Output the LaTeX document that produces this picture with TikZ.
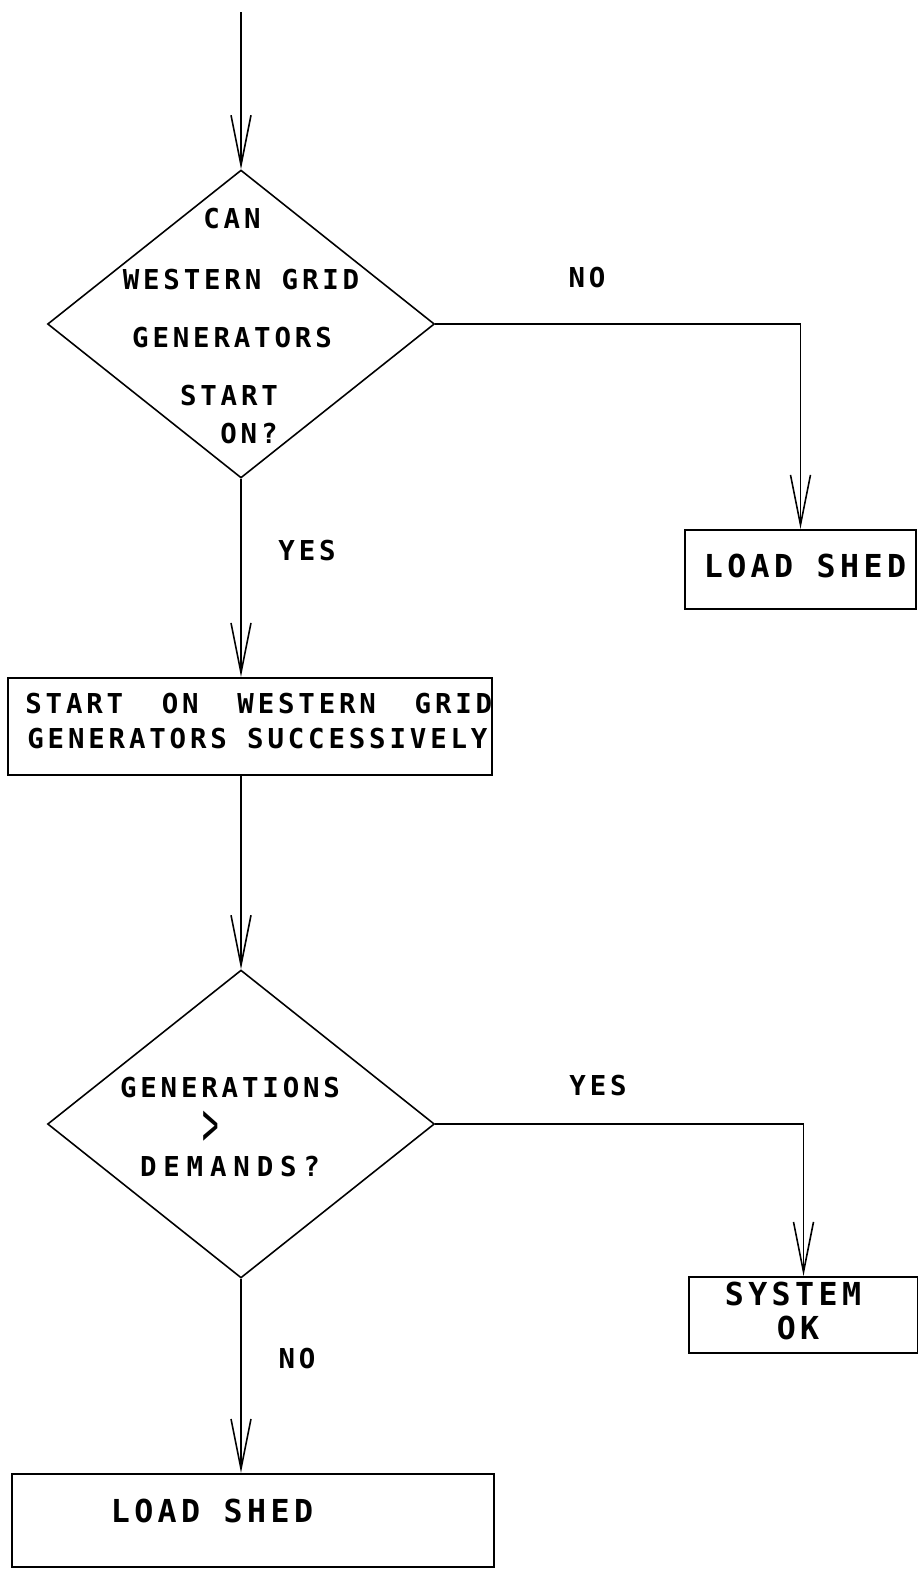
\documentclass[tikz,border=0pt]{standalone}
\usepackage{graphicx}
\usepackage{fontspec}
\newfontfamily\plotfont{DejaVu Sans Mono}[LetterSpace=14, UprightFont=*, BoldFont=* Bold]
\newfontfamily\plotwide{DejaVu Sans Mono}[LetterSpace=25]
\usetikzlibrary{arrows.meta,shapes.geometric}

\tikzset{
  flow/.style={line width=0.9pt, -{Straight Barb[length=1cm,width=0.4cm]}},
  decision/.style={draw, diamond, line width=0.9pt, inner sep=0pt,
    minimum width=7.74cm, minimum height=6.16cm},
  stepbox/.style={draw, rectangle, line width=1.2pt, inner sep=0pt},
  txt/.style={inner sep=0pt, font=\plotfont\bfseries\fontsize{15.6pt}{18pt}\selectfont,
    text height=11.4pt, text depth=0pt},
  bigtxt/.style={inner sep=0pt, font=\plotfont\bfseries\fontsize{18pt}{21pt}\selectfont,
    text height=13.1pt, text depth=0pt},
}

\begin{document}
\begin{tikzpicture}[x=0.02cm, y=-0.02cm]
	\useasboundingbox (0,0) rectangle (917,1570);

	% first question
	\coordinate (entry) at (241,12);
	\node[decision] (ask1) at (241,324) {};
	\foreach \t/\x/\y [count=\i] in {CAN/232/218, WESTERN GRID/241/279,
	    GENERATORS/232/337, START/229/395, ON?/249/433}
		\node[txt] (askA\i) at (\x,\y) {\t};

	% boxes
	\node[stepbox, minimum width=4.62cm, minimum height=1.58cm] (shedA) at (800.5,569.5) {};
	\node[bigtxt] (shedAtxt) at (805,566) {LOAD SHED};

	\node[stepbox, minimum width=9.68cm, minimum height=1.94cm] (startbox) at (250,726.5) {};
	\node[txt, anchor=west] (startA) at (25,703)
		{\makebox[9.34cm][l]{START\hfill ON\hfill WESTERN\hfill GRID}};
	\node[txt, anchor=west] (startB) at (27,738) {GENERATORS SUCCESSIVELY};

	% second question
	\node[decision] (ask2) at (241,1124) {};
	\node[txt] (askB1) at (230,1087) {GENERATIONS};
	\node[inner sep=0pt, font=\fontsize{15.6pt}{18pt}\selectfont] (askB2) at (211,1145)
		{\scalebox{1}[2.25]{\smash{\plotfont>}}};
	\node[txt, font=\plotwide\bfseries\fontsize{15.6pt}{18pt}\selectfont] (askB3) at (230,1166) {DEMANDS?};

	\node[stepbox, minimum width=4.58cm, minimum height=1.52cm] (okbox) at (803.5,1315) {};
	\node[bigtxt] (okA) at (793,1294) {SYSTEM};
	\node[bigtxt] (okB) at (798,1328) {OK};

	\node[stepbox, minimum width=9.64cm, minimum height=1.86cm] (shedB) at (253,1520.5) {};
	\node[bigtxt] (shedBtxt) at (212,1511) {LOAD SHED};

	% answers
	\node[txt] (no1) at (587,277) {NO};
	\node[txt] (yes1) at (307,550) {YES};
	\node[txt] (yes2) at (598,1085) {YES};
	\node[txt] (no2) at (297,1358) {NO};

	% connectors
	\draw[flow] (entry) -- (ask1.north);
	\draw[flow] (ask1.east) -| (shedA.north);
	\draw[flow] (ask1.south) -- (ask1.south |- startbox.north);
	\draw[flow] (ask2.north |- startbox.south) -- (ask2.north);
	\draw[flow] (ask2.east) -| (okbox.north);
	\draw[flow] (ask2.south) -- (ask2.south |- shedB.north);

\end{tikzpicture}
\end{document}
